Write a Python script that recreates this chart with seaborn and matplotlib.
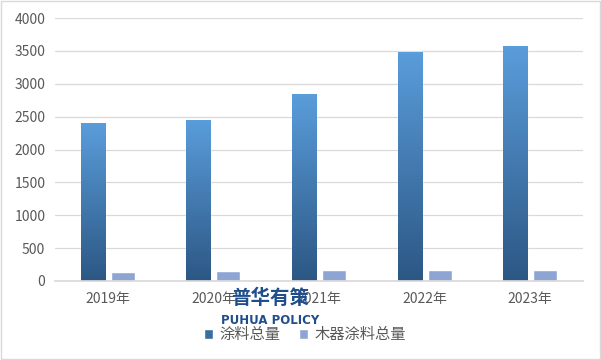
import numpy as np
import pandas as pd
import matplotlib
matplotlib.use("Agg")
import matplotlib.pyplot as plt
import matplotlib.colors as mcolors
from matplotlib.patches import Patch, Rectangle
import seaborn as sns

# Data
years = ["2019年", "2020年", "2021年", "2022年", "2023年"]
coating_total = [2400, 2450, 2850, 3490, 3580]
wood_coating_total = [140, 150, 170, 170, 170]
series_names = ["涂料总量", "木器涂料总量"]

df = pd.DataFrame({
    "year": years * 2,
    "value": coating_total + wood_coating_total,
    "series": [series_names[0]] * len(years) + [series_names[1]] * len(years),
})

sns.set_theme(style="white")
plt.rcParams['font.family'] = ['Noto Sans CJK SC', 'DejaVu Sans']

fig = plt.figure(figsize=(6.01, 3.6), dpi=100)
ax = fig.add_axes([55 / 601, 1 - 281 / 360, 528 / 601, 263 / 360])

sns.barplot(data=df, x="year", y="value", hue="series",
            palette=["#3f75a8", "#8ea5d4"], width=0.57, gap=0.2,
            ax=ax, legend=False, saturation=1)

# gradient fill for the first series (dark at bottom, light at top)
grad_cmap = mcolors.LinearSegmentedColormap.from_list("g", ["#2c5784", "#5a9ddb"])
grad = np.linspace(0, 1, 256).reshape(-1, 1)
for bar in ax.patches[:len(years)]:
    x0, w, h = bar.get_x(), bar.get_width(), bar.get_height()
    bar.set_facecolor("none")
    im = ax.imshow(grad, cmap=grad_cmap, origin="lower", aspect="auto",
                   extent=[x0, x0 + w, 0, h], zorder=2)
    im.set_clip_path(bar)

ax.set_xlim(-0.5, len(years) - 0.5)
ax.set_ylim(0, 4000)
ax.set_yticks(range(0, 4001, 500))
ax.yaxis.grid(True, color="#d9d9d9", linewidth=0.9)
ax.set_axisbelow(True)
for s in ["top", "right", "left"]:
    ax.spines[s].set_visible(False)
ax.spines["bottom"].set_color("#d9d9d9")
ax.tick_params(axis="both", length=0, labelsize=10, colors="#595959", pad=7)
ax.tick_params(axis="x", pad=8)
ax.set_xlabel("")
ax.set_ylabel("")

# legend at bottom
handles = [Patch(facecolor="#3a6e9f"), Patch(facecolor="#8ea5d4")]
fig.legend(handles, series_names, loc="center", bbox_to_anchor=(305 / 601, 1 - 335 / 360),
           ncol=2, frameon=False, fontsize=11, handlelength=0.6, handleheight=0.6,
           handletextpad=0.4, columnspacing=1.2, labelcolor="#595959")

# watermark logo
fig.text(270 / 601, 1 - 298 / 360, "普华有策", ha="center", va="center",
         fontsize=14, fontweight="bold", color="#1f4e8c")
fig.text(270 / 601, 1 - 321 / 360, "PUHUA POLICY", ha="center", va="center",
         fontsize=8.5, fontweight="bold", color="#1f4e8c", family=["DejaVu Sans"])

# outer border
fig.patches.append(Rectangle((0.001, 0.002), 0.997, 0.995, transform=fig.transFigure,
                             fill=False, edgecolor="#d9d9d9", linewidth=1))

fig.savefig("out.png", dpi=100)
